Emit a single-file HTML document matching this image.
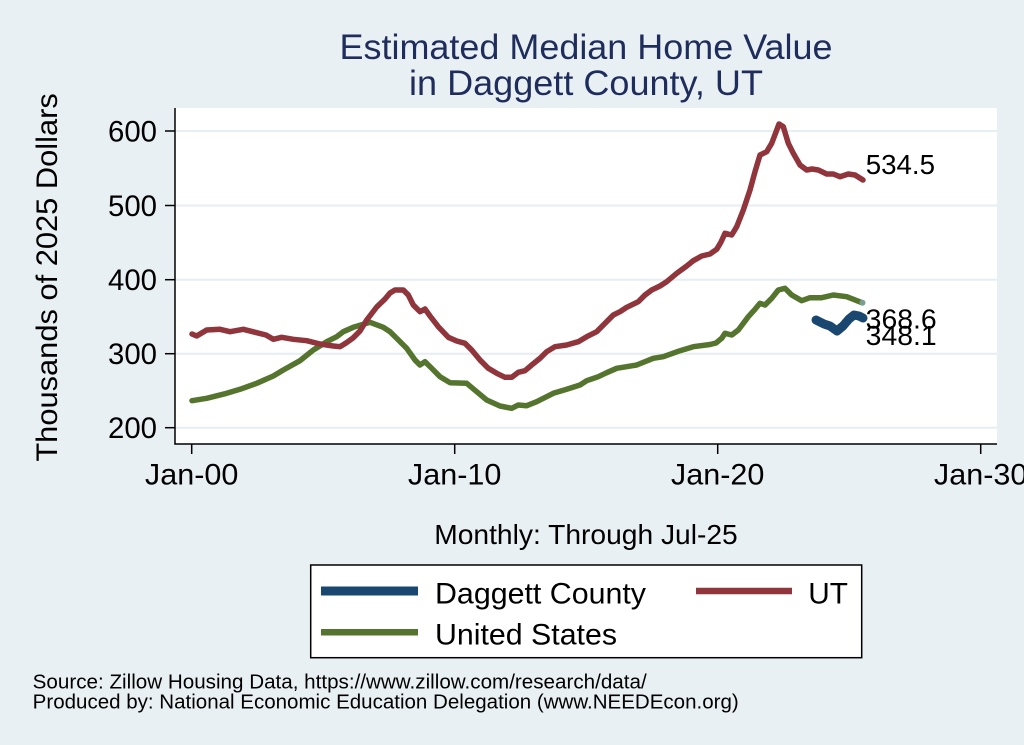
<!DOCTYPE html>
<html>
<head>
<meta charset="utf-8">
<style>
  html, body { margin:0; padding:0; background:#e9f0f3; }
  svg { display:block; }
  text { font-family: "Liberation Sans", Arial, sans-serif; }
</style>
</head>
<body>
<svg width="1024" height="745" viewBox="0 0 1024 745" xmlns="http://www.w3.org/2000/svg">
  <rect x="0" y="0" width="1024" height="745" fill="#e9f0f3"/>

  <!-- Title -->
  <text x="586" y="59" font-size="35" fill="#1f2d5c" text-anchor="middle" textLength="493" lengthAdjust="spacingAndGlyphs">Estimated Median Home Value</text>
  <text x="586" y="95" font-size="35" fill="#1f2d5c" text-anchor="middle" textLength="354" lengthAdjust="spacingAndGlyphs">in Daggett County, UT</text>

  <!-- Plot area -->
  <rect x="175" y="108" width="822" height="336" fill="#ffffff"/>

  <!-- Gridlines -->
  <g stroke="#e6eef1" stroke-width="2">
    <line x1="175" y1="131" x2="997" y2="131"/>
    <line x1="175" y1="205.5" x2="997" y2="205.5"/>
    <line x1="175" y1="279.7" x2="997" y2="279.7"/>
    <line x1="175" y1="353.7" x2="997" y2="353.7"/>
    <line x1="175" y1="427.7" x2="997" y2="427.7"/>
  </g>

  <!-- Axes -->
  <g stroke="#000" stroke-width="1.5" fill="none">
    <line x1="175" y1="108" x2="175" y2="444.5"/>
    <line x1="174.3" y1="444" x2="997" y2="444"/>
    <!-- y ticks -->
    <line x1="165" y1="131" x2="175" y2="131"/>
    <line x1="165" y1="205.5" x2="175" y2="205.5"/>
    <line x1="165" y1="279.7" x2="175" y2="279.7"/>
    <line x1="165" y1="353.7" x2="175" y2="353.7"/>
    <line x1="165" y1="427.7" x2="175" y2="427.7"/>
    <!-- x ticks -->
    <line x1="191.7" y1="444" x2="191.7" y2="454"/>
    <line x1="454.7" y1="444" x2="454.7" y2="454"/>
    <line x1="717.7" y1="444" x2="717.7" y2="454"/>
    <line x1="980.7" y1="444" x2="980.7" y2="454"/>
  </g>

  <!-- Y tick labels -->
  <g font-size="29.5" fill="#000" text-anchor="end">
    <text x="157" y="141.5" textLength="49" lengthAdjust="spacingAndGlyphs">600</text>
    <text x="157" y="216" textLength="49" lengthAdjust="spacingAndGlyphs">500</text>
    <text x="157" y="290.2" textLength="49" lengthAdjust="spacingAndGlyphs">400</text>
    <text x="157" y="364.2" textLength="49" lengthAdjust="spacingAndGlyphs">300</text>
    <text x="157" y="438.2" textLength="49" lengthAdjust="spacingAndGlyphs">200</text>
  </g>

  <!-- X tick labels -->
  <g font-size="30" fill="#000" text-anchor="middle">
    <text x="191.7" y="484.3" textLength="93.5" lengthAdjust="spacingAndGlyphs">Jan-00</text>
    <text x="454.7" y="484.3" textLength="93.5" lengthAdjust="spacingAndGlyphs">Jan-10</text>
    <text x="717.7" y="484.3" textLength="93.5" lengthAdjust="spacingAndGlyphs">Jan-20</text>
    <text x="980.7" y="484.3" textLength="93.5" lengthAdjust="spacingAndGlyphs">Jan-30</text>
  </g>

  <!-- Y axis title -->
  <text transform="translate(57,277.4) rotate(-90)" x="0" y="0" font-size="30" fill="#000" text-anchor="middle" textLength="368.5" lengthAdjust="spacingAndGlyphs">Thousands of 2025 Dollars</text>

  <!-- X axis note -->
  <text x="586" y="544" font-size="28" fill="#000" text-anchor="middle" textLength="303.5" lengthAdjust="spacingAndGlyphs">Monthly: Through Jul-25</text>

  <!-- Series -->
  <g fill="none" stroke-linejoin="round" stroke-linecap="round">
    <polyline stroke="#55752f" stroke-width="5.5" points="192,400.7 206.7,398.3 226.7,393.3 240,389.3 256.7,383.3 273.3,376 283.3,370 300,360.7 313.3,350 326.7,341.7 336.7,336.7 343.3,331.7 353.3,327.3 366.7,323.3 370,322.3 383.3,327.3 390,331.7 396.7,338.3 406.7,348.3 415,360 420,365 425,361.7 431.7,368.3 440,376.7 450,382.7 466.7,383.3 476.7,391.7 486.7,400 500,406 511.7,408.3 518.3,405 526.7,405.7 536.7,401.7 553.3,393.3 566.7,389.3 580,385 586.7,380.7 598.3,376.7 606.7,372.7 616.7,368.3 636.7,365 653.3,358.3 663.3,356.7 680,350.7 693.3,346.7 710,344.5 716,343 721.7,338.3 725,333.3 731.7,335 738.3,330 748.3,316.7 755,309.3 760,303.3 765,305 771.7,298.3 778.3,290 785,288.3 791.7,295 801.7,300.7 810,297.7 821.7,297.7 833.3,295 846.7,296.7 862,302.7"/>
    <polyline stroke="#90353b" stroke-width="5.5" points="192,334 196.7,336 206.7,330 220,329.3 230,331.7 243.3,329.3 256.7,332.7 266,335 273.3,339.3 281.7,337.3 293.3,339.3 306.7,340.7 320,344 333.3,346 340,346.7 346,343 353,338 360,331 366.7,320 376.7,307 385,299 390,293 395,290 403.3,290 408.3,295 413.3,305 420,311.7 425,309 430,316 438.3,326.7 448.3,337.3 456.7,341 465,343.3 471.7,350 480,360 488.3,368.3 496.7,373.3 505,377.3 511.7,377.3 518.3,372.3 525,370.7 531.7,365 540,358.3 546.7,351.7 555,346.7 566.7,345 578.3,341.7 586.7,336.7 596.7,331.7 605,323.3 613.3,315 620,311.7 626.7,307.3 638.3,301.7 645,295 651.7,290 660,286 666.7,281.7 676.7,273.3 686.7,266 693.3,260.7 701.7,256 710,254 716.7,249.3 721,242 725,233.3 731.7,235 736.7,226.7 743.3,210 750,190 755,171.7 760,155 766.7,151.7 771.7,143.3 776,132 779,124 783.3,126.7 788.3,143.3 793.3,153.3 800,165 806.7,170 812,169 818.3,170 826.7,174 833.3,174 840,176.7 848.3,174 855,175 863,180"/>
    <polyline stroke="#1a476f" stroke-width="9" points="816,320 824,324 830,326 837,331 843,326 849,319 854,315 859,316 863,318"/>
  </g>
  <circle cx="862.5" cy="302.7" r="3" fill="#7a9e94"/>

  <!-- End labels -->
  <g font-size="28" fill="#000">
    <text x="865.7" y="174" textLength="69.3" lengthAdjust="spacingAndGlyphs">534.5</text>
    <text x="865.7" y="328.3" textLength="71" lengthAdjust="spacingAndGlyphs">368.6</text>
    <text x="865.7" y="345" textLength="71" lengthAdjust="spacingAndGlyphs">348.1</text>
  </g>

  <!-- Legend -->
  <rect x="310.7" y="565" width="551" height="92.7" fill="#ffffff" stroke="#000" stroke-width="1.5"/>
  <line x1="321" y1="591" x2="418" y2="591" stroke="#1a476f" stroke-width="9"/>
  <line x1="696" y1="591" x2="792" y2="591" stroke="#90353b" stroke-width="6.5"/>
  <line x1="321" y1="632.3" x2="418" y2="632.3" stroke="#55752f" stroke-width="6.5"/>
  <g font-size="29.5" fill="#000">
    <text x="435" y="603.3" textLength="211" lengthAdjust="spacingAndGlyphs">Daggett County</text>
    <text x="808.3" y="603.3" textLength="39.7" lengthAdjust="spacingAndGlyphs">UT</text>
    <text x="435" y="644.3" textLength="182" lengthAdjust="spacingAndGlyphs">United States</text>
  </g>

  <!-- Source -->
  <g font-size="20" fill="#000">
    <text x="32.7" y="688.3" textLength="614" lengthAdjust="spacingAndGlyphs">Source: Zillow Housing Data, https://www.zillow.com/research/data/</text>
    <text x="32.7" y="708.3" textLength="706" lengthAdjust="spacingAndGlyphs">Produced by: National Economic Education Delegation (www.NEEDEcon.org)</text>
  </g>
</svg>
</body>
</html>
